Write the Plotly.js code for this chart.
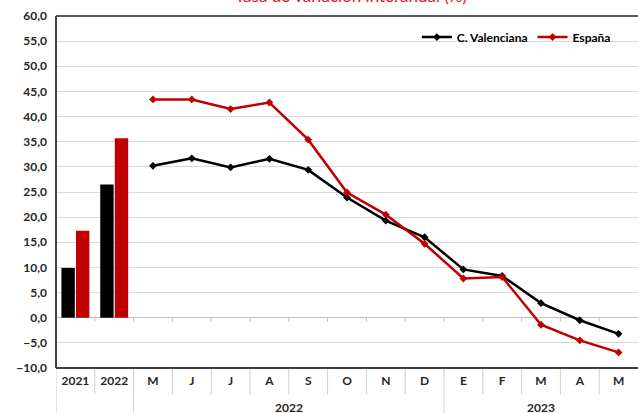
<!DOCTYPE html>
<html>
<head>
<meta charset="utf-8">
<script src="https://cdn.plot.ly/plotly-3.0.1.min.js"></script>
<style>html,body{margin:0;padding:0;background:#fff;}#chart{width:638px;height:413px;}</style>
</head>
<body>
<div id="chart"></div>
<script>
// Data
const periodLabels = ['2021', '2022', 'M', 'J', 'J', 'A', 'S', 'O', 'N', 'D', 'E', 'F', 'M', 'A', 'M'];
const annualLabels = ['2021', '2022'];
const annualValencia = [9.9, 26.5];
const annualEspana = [17.3, 35.7];
const monthlyValencia = [30.2, 31.7, 29.9, 31.6, 29.4, 23.9, 19.3, 16.0, 9.6, 8.3, 2.9, -0.5, -3.2];
const monthlyEspana = [43.4, 43.4, 41.5, 42.8, 35.4, 24.9, 20.5, 14.7, 7.8, 8.1, -1.4, -4.5, -6.9];
const yearGroups = ['2022', '2023'];
const yearGroupSizes = [8, 5];
const seriesNames = ['C. Valenciana', 'España'];
const titleText = 'Tasa de variación interanual (%)';

const BLACK = '#000000';
const RED = '#c00000';
const FONT = 'Lato, "Open Sans", sans-serif';

const idx = periodLabels.map((_, i) => i);
const annualX = annualLabels.map((_, i) => i);
const monthX = monthlyValencia.map((_, i) => i + annualLabels.length);

const traces = [
  {type: 'bar', x: annualX, y: annualValencia, name: seriesNames[0], marker: {color: BLACK}, showlegend: false, hoverinfo: 'y'},
  {type: 'bar', x: annualX, y: annualEspana, name: seriesNames[1], marker: {color: RED}, showlegend: false, hoverinfo: 'y'},
  {type: 'scatter', mode: 'lines+markers', x: monthX, y: monthlyValencia, name: seriesNames[0],
   line: {color: BLACK, width: 2.5}, marker: {symbol: 'diamond', size: 6, color: BLACK}},
  {type: 'scatter', mode: 'lines+markers', x: monthX, y: monthlyEspana, name: seriesNames[1],
   line: {color: RED, width: 2.5}, marker: {symbol: 'diamond', size: 6, color: RED}}
];

// category separators below the plot
const shapes = [];
const nCat = periodLabels.length;
const longBounds = [-0.5, annualLabels.length - 0.5];
let acc = annualLabels.length;
yearGroupSizes.forEach((s, k) => { acc += s; if (k < yearGroupSizes.length - 1) longBounds.push(acc - 0.5); });
for (let b = -0.5; b < nCat - 0.5; b += 1) {
  const isLong = longBounds.some(v => Math.abs(v - b) < 1e-6);
  shapes.push({type: 'line', xref: 'x', yref: 'paper', x0: b, x1: b, y0: 0, y1: isLong ? -0.13 : -0.075,
    line: {color: '#d0d0d0', width: 1}});
  if (b > -0.5) {
    shapes.push({type: 'line', xref: 'x', yref: 'y', x0: b, x1: b, y0: 0, y1: -0.8, line: {color: '#bfbfbf', width: 1}});
  }
}
// frame lines
shapes.push({type: 'line', xref: 'paper', yref: 'paper', x0: 0, x1: 1, y0: 1, y1: 1, line: {color: '#595959', width: 2}});
shapes.push({type: 'line', xref: 'paper', yref: 'paper', x0: 0, x1: 1, y0: 0, y1: 0, line: {color: '#404040', width: 2}});
shapes.push({type: 'line', xref: 'paper', yref: 'paper', x0: 0, x1: 0, y0: 0, y1: 1, line: {color: '#404040', width: 2}});

const annotations = [];
let start = annualLabels.length;
yearGroups.forEach((g, k) => {
  const center = start + (yearGroupSizes[k] - 1) / 2;
  annotations.push({xref: 'x', yref: 'paper', x: center, y: -0.111, yanchor: 'middle', showarrow: false,
    text: g, font: {family: FONT, size: 12, color: '#262626', weight: 'bold'}});
  start += yearGroupSizes[k];
});
annotations.push({xref: 'paper', yref: 'paper', x: (351 - 56) / 582, y: 1 + (16 + 4) / 352, yanchor: 'middle',
  showarrow: false, text: titleText, font: {family: FONT, size: 17, color: '#e3141c'}});

const layout = {
  width: 638, height: 413,
  margin: {l: 56, r: 0, t: 16, b: 45, pad: 0},
  paper_bgcolor: '#ffffff', plot_bgcolor: '#ffffff',
  separators: ',.',
  barmode: 'group', bargap: 0.25, bargroupgap: 0.08,
  showlegend: true,
  legend: {orientation: 'h', x: 0.62, y: 0.94, xanchor: 'left', yanchor: 'middle',
    font: {family: FONT, size: 12, color: '#000000', weight: 'bold'}, bgcolor: 'rgba(0,0,0,0)',
    itemwidth: 30, tracegroupgap: 0},
  xaxis: {type: 'linear', range: [-0.5, nCat - 0.5], tickvals: idx, ticktext: periodLabels,
    showgrid: false, zeroline: false, showline: false, ticks: '', ticklabelstandoff: 4,
    tickfont: {family: FONT, size: 12, color: '#262626', weight: 'bold'}, fixedrange: true},
  yaxis: {range: [-10, 60], dtick: 5, tick0: 0, tickformat: '.1f', showgrid: true, gridcolor: '#d9d9d9', gridwidth: 1,
    zeroline: true, zerolinecolor: '#bfbfbf', zerolinewidth: 1, showline: false, ticks: '',
    ticklabelstandoff: 8,
    tickfont: {family: FONT, size: 12, color: '#262626', weight: 'bold'}, fixedrange: true},
  shapes: shapes,
  annotations: annotations
};

Plotly.newPlot('chart', traces, layout, {displayModeBar: false, staticPlot: true});
</script>
</body>
</html>
